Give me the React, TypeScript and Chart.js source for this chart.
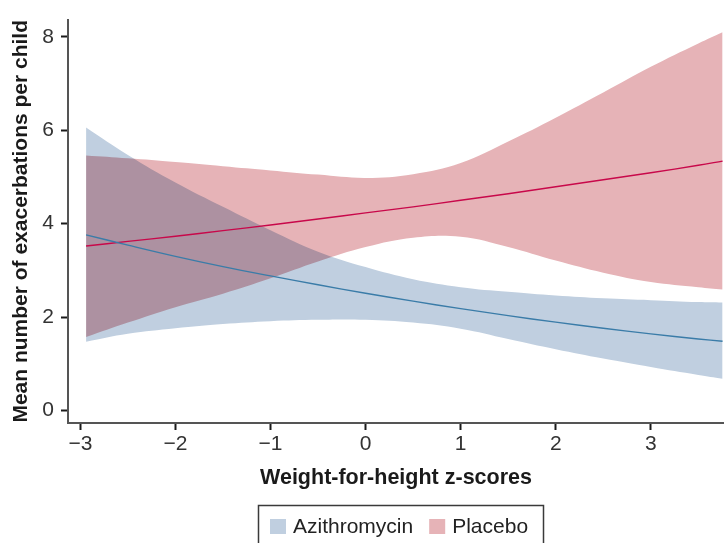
import React, { useEffect, useRef } from "react";
import { Chart, registerables } from "chart.js";

Chart.register(...registerables);

// Weight-for-height z-score positions where the curves were read
const xValues = [-2.94, -2.5, -2, -1.5, -1, -0.5, 0, 0.5, 1, 1.5, 2, 2.5, 3, 3.5, 3.755];

// Azithromycin: mean and confidence band
const azithroMean = [3.76, 3.54, 3.3, 3.08, 2.88, 2.69, 2.51, 2.34, 2.18, 2.03, 1.89, 1.76, 1.64, 1.53, 1.48];
const azithroUpper = [6.06, 5.47, 4.88, 4.36, 3.86, 3.4, 3.07, 2.81, 2.64, 2.54, 2.46, 2.4, 2.36, 2.32, 2.31];
const azithroLower = [1.47, 1.64, 1.76, 1.85, 1.91, 1.94, 1.94, 1.88, 1.75, 1.53, 1.31, 1.11, 0.93, 0.76, 0.68];

// Placebo: mean and confidence band
const placeboMean = [3.52, 3.62, 3.73, 3.85, 3.97, 4.1, 4.23, 4.36, 4.5, 4.64, 4.79, 4.94, 5.09, 5.25, 5.34];
const placeboUpper = [5.46, 5.4, 5.32, 5.23, 5.14, 5.05, 4.98, 5.06, 5.3, 5.76, 6.27, 6.81, 7.36, 7.86, 8.1];
const placeboLower = [1.57, 1.88, 2.21, 2.5, 2.83, 3.19, 3.5, 3.7, 3.72, 3.5, 3.21, 2.95, 2.75, 2.64, 2.59];

// Ticks and labels
const xTickValues = [-3, -2, -1, 0, 1, 2, 3];
const yTickValues = [0, 2, 4, 6, 8];
const legendLabels = ["Azithromycin", "Placebo"];
const xTitle = "Weight-for-height z-scores";
const yTitle = "Mean number of exacerbations per child";

const BLUE_FILL = "#C0CFE0";
const PINK_FILL = "#E6B3B7";
const BLUE_LINE = "#3A7CA8";
const PINK_LINE = "#C8084A";
const FONT = "'Liberation Sans', Arial, sans-serif";

const pts = (ys: number[]) => xValues.map((x, i) => ({ x, y: ys[i] }));
const fmt = (v: number) => (v < 0 ? "\u2212" + Math.abs(v) : String(v));

export default function App() {
  const ref = useRef<HTMLCanvasElement | null>(null);

  useEffect(() => {
    if (!ref.current) return;

    const blendPlugin = {
      id: "blend",
      beforeDatasetsDraw(chart: any) {
        chart.ctx.save();
        chart.ctx.globalCompositeOperation = "multiply";
      },
      beforeDatasetDraw(chart: any, args: any) {
        const ds = chart.data.datasets[args.index];
        if (ds.isMean) chart.ctx.globalCompositeOperation = "source-over";
      },
      afterDatasetsDraw(chart: any) {
        chart.ctx.restore();
      },
    };

    const legendPlugin = {
      id: "boxLegend",
      afterDraw(chart: any) {
        const ctx = chart.ctx;
        const items = chart.data.datasets.filter((d: any) => d.legendItem);
        ctx.save();
        ctx.strokeStyle = "#3a3a3a";
        ctx.lineWidth = 1.5;
        ctx.strokeRect(258.5, 505.5, 285, 60);
        ctx.font = "21px " + FONT;
        ctx.textBaseline = "alphabetic";
        ctx.textAlign = "left";
        let x = 270;
        items.forEach((d: any) => {
          ctx.fillStyle = d.backgroundColor;
          ctx.fillRect(x, 519, 16, 15);
          ctx.fillStyle = "#222";
          ctx.fillText(d.label, x + 23, 533);
          x += 23 + ctx.measureText(d.label).width + 16;
        });
        ctx.restore();
      },
    };

    const band = {
      pointRadius: 0,
      borderWidth: 0,
      tension: 0.4,
    };

    const chart = new Chart(ref.current, {
      type: "line",
      data: {
        datasets: [
          { ...band, label: "Azithromycin lower", data: pts(azithroLower), fill: false, order: 2, borderColor: "transparent" },
          { ...band, label: legendLabels[0], legendItem: true, data: pts(azithroUpper), fill: "-1", order: 2, backgroundColor: BLUE_FILL, borderColor: "transparent" } as any,
          { ...band, label: "Placebo lower", data: pts(placeboLower), fill: false, order: 1, borderColor: "transparent" },
          { ...band, label: legendLabels[1], legendItem: true, data: pts(placeboUpper), fill: "-1", order: 1, backgroundColor: PINK_FILL, borderColor: "transparent" } as any,
          { label: "Azithromycin mean", isMean: true, data: pts(azithroMean), borderColor: BLUE_LINE, borderWidth: 1.4, pointRadius: 0, fill: false, order: 0, tension: 0.4 } as any,
          { label: "Placebo mean", isMean: true, data: pts(placeboMean), borderColor: PINK_LINE, borderWidth: 1.4, pointRadius: 0, fill: false, order: 0, tension: 0.4 } as any,
        ],
      },
      options: {
        responsive: false,
        animation: false,
        layout: { padding: { top: 14, right: 0, left: 0, bottom: 0 } },
        plugins: { legend: { display: false }, tooltip: { enabled: false } },
        scales: {
          x: {
            type: "linear",
            min: -3.13,
            max: 3.77,
            afterBuildTicks(scale: any) {
              scale.ticks = xTickValues.map((v) => ({ value: v }));
            },
            afterFit(scale: any) {
              scale.height = 120;
            },
            ticks: {
              callback: (v: any) => fmt(Number(v)),
              color: "#333",
              font: { family: FONT, size: 21 },
              padding: 2,
              maxRotation: 0,
            },
            grid: { display: true, drawOnChartArea: false, drawTicks: true, tickLength: 7, tickColor: "#1a1a1a", tickWidth: 2 },
            border: { display: true, color: "#555", width: 2 },
            title: {
              display: true,
              text: xTitle,
              color: "#1a1a1a",
              font: { family: FONT, size: 21.5, weight: "bold" },
              padding: { top: 0, bottom: 52 },
            },
          },
          y: {
            type: "linear",
            min: -0.27,
            max: 8.37,
            afterBuildTicks(scale: any) {
              scale.ticks = yTickValues.map((v) => ({ value: v }));
            },
            afterFit(scale: any) {
              scale.width = 68;
            },
            ticks: {
              callback: (v: any) => fmt(Number(v)),
              color: "#333",
              font: { family: FONT, size: 21 },
              padding: 7,
            },
            grid: { display: true, drawOnChartArea: false, drawTicks: true, tickLength: 7, tickColor: "#1a1a1a", tickWidth: 2 },
            border: { display: true, color: "#555", width: 2 },
            title: {
              display: true,
              text: yTitle,
              color: "#1a1a1a",
              font: { family: FONT, size: 21, weight: "bold" },
              padding: { top: 9, bottom: 0 },
            },
          },
        },
      },
      plugins: [blendPlugin, legendPlugin],
    });

    return () => chart.destroy();
  }, []);

  return (
    <canvas
      ref={ref}
      width={724}
      height={543}
      style={{ position: "absolute", left: 0, top: 0, width: 724, height: 543 }}
    />
  );
}
